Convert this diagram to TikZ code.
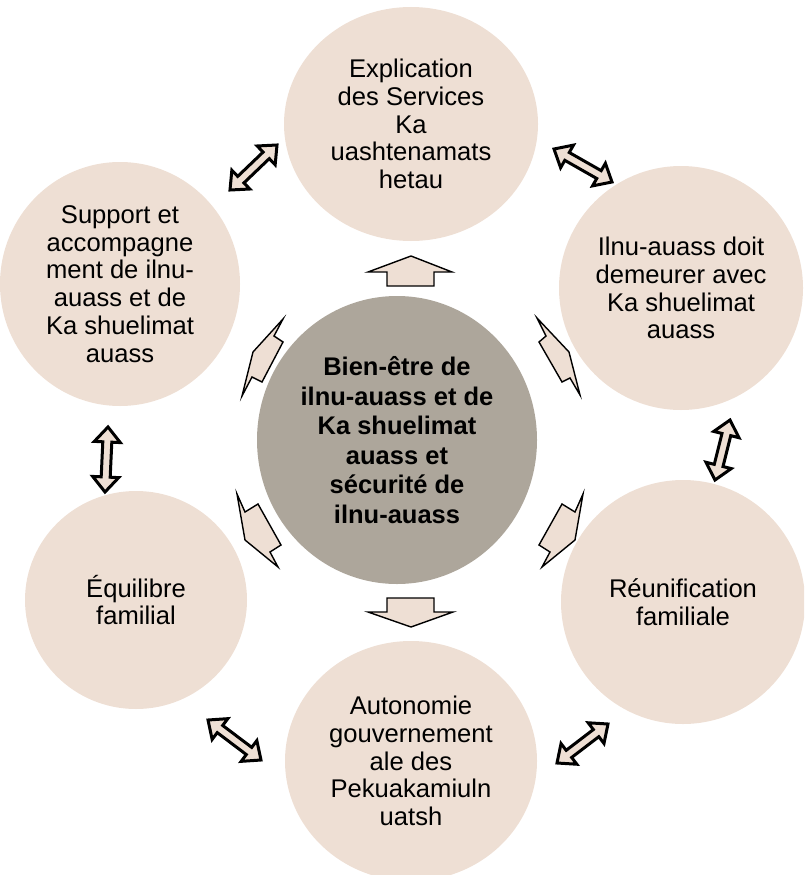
\documentclass[tikz,border=0pt]{standalone}
\usepackage{fontspec}
\setmainfont{Liberation Sans}
\usetikzlibrary{calc,shapes.geometric}
\definecolor{beige}{HTML}{EEDFD4}
\definecolor{taupe}{HTML}{ADA69B}
\newcommand{\DblArrow}[2]{%
  \coordinate (#1h) at ($(#1)!15pt!(#2)$);
  \coordinate (#2h) at ($(#2)!15pt!(#1)$);
  \draw[dblarr] (#1) -- ($(#1h)!13pt!90:(#2)$) -- ($(#1h)!4.5pt!90:(#2)$)
    -- ($(#2h)!4.5pt!-90:(#1)$) -- ($(#2h)!13pt!-90:(#1)$) -- (#2)
    -- ($(#2h)!13pt!90:(#1)$) -- ($(#2h)!4.5pt!90:(#1)$)
    -- ($(#1h)!4.5pt!-90:(#2)$) -- ($(#1h)!13pt!-90:(#2)$) -- cycle;}
\begin{document}
\begin{tikzpicture}[x=1pt,y=-1pt,
  outer/.style={ellipse, fill=beige, inner sep=0pt, align=center,
    font=\fontsize{25.6}{27.8}\selectfont},
  core/.style={ellipse, fill=taupe, inner sep=0pt, align=center,
    font=\bfseries\fontsize{25.5}{29.5}\selectfont},
  dblarr/.style={draw=black, line width=3pt, fill=beige, line join=miter},
  blk/.style={draw=black, line width=1.4pt, fill=beige, line join=miter}]
\useasboundingbox (0,0) rectangle (804,875);
\clip (0,0) rectangle (804,875);
% circles
\node[outer, minimum width=254pt, minimum height=234pt] (top) at (411,124)
  {Explication\\des Services\\Ka\\uashtenamats\\hetau};
\node[outer, minimum width=240pt, minimum height=244pt] (ul) at (120,284)
  {Support et\\accompagne\\ment de ilnu-\\auass et de\\Ka shuelimat\\auass};
\node[outer, minimum width=244pt, minimum height=244pt] (ur) at (681,288)
  {Ilnu-auass doit\\demeurer avec\\Ka shuelimat\\auass};
\node[outer, minimum width=222pt, minimum height=218pt] (ll) at (136,600)
  {Équilibre\\familial};
\node[outer, minimum width=244pt, minimum height=244pt] (lr) at (683,602)
  {Réunification\\familiale};
\node[outer, minimum width=252pt, minimum height=240pt] (bot) at (411,761)
  {Autonomie\\gouvernement\\ale des\\Pekuakamiuln\\uatsh};
\node[core, minimum width=280pt, minimum height=288pt] (c) at (397,440)
  {Bien-être de\\ilnu-auass et de\\Ka shuelimat\\auass et\\sécurité de\\ilnu-auass};
% double arrows between outer circles
\coordinate (a1) at (230,190); \coordinate (b1) at (277,145);
\coordinate (a2) at (554,149); \coordinate (b2) at (612,182);
\coordinate (a3) at (108,427); \coordinate (b3) at (105,492);
\coordinate (a4) at (730,420); \coordinate (b4) at (715,480);
\coordinate (a5) at (208,720); \coordinate (b5) at (261,760);
\coordinate (a6) at (608,724); \coordinate (b6) at (557,763);
\DblArrow{a1}{b1}
\DblArrow{a2}{b2}
\DblArrow{a3}{b3}
\DblArrow{a4}{b4}
\DblArrow{a5}{b5}
\DblArrow{a6}{b6}
% block arrows from the centre
\draw[blk] (411,256) -- (368,272) -- (387,272) -- (387,286) -- (434,286)
  -- (434,272) -- (452,272) -- cycle;
\draw[blk] (387,598) -- (434,598) -- (434,612) -- (453,612) -- (411,627)
  -- (368,612) -- (387,612) -- cycle;
\draw[blk] (283,319) -- (274,336) -- (283,342) -- (262,382) -- (252,377)
  -- (242,396) -- (253,352) -- cycle;
\draw[blk] (537,318) -- (546,336) -- (539,342) -- (562,382) -- (570,378)
  -- (580,395) -- (569,352) -- cycle;
\draw[blk] (237,494) -- (245,512) -- (258,504) -- (281,545) -- (270,552)
  -- (278,567) -- (245,540) -- cycle;
\draw[blk] (583,494) -- (575,512) -- (562,504) -- (539,545) -- (550,552)
  -- (542,567) -- (575,540) -- cycle;
\end{tikzpicture}
\end{document}
